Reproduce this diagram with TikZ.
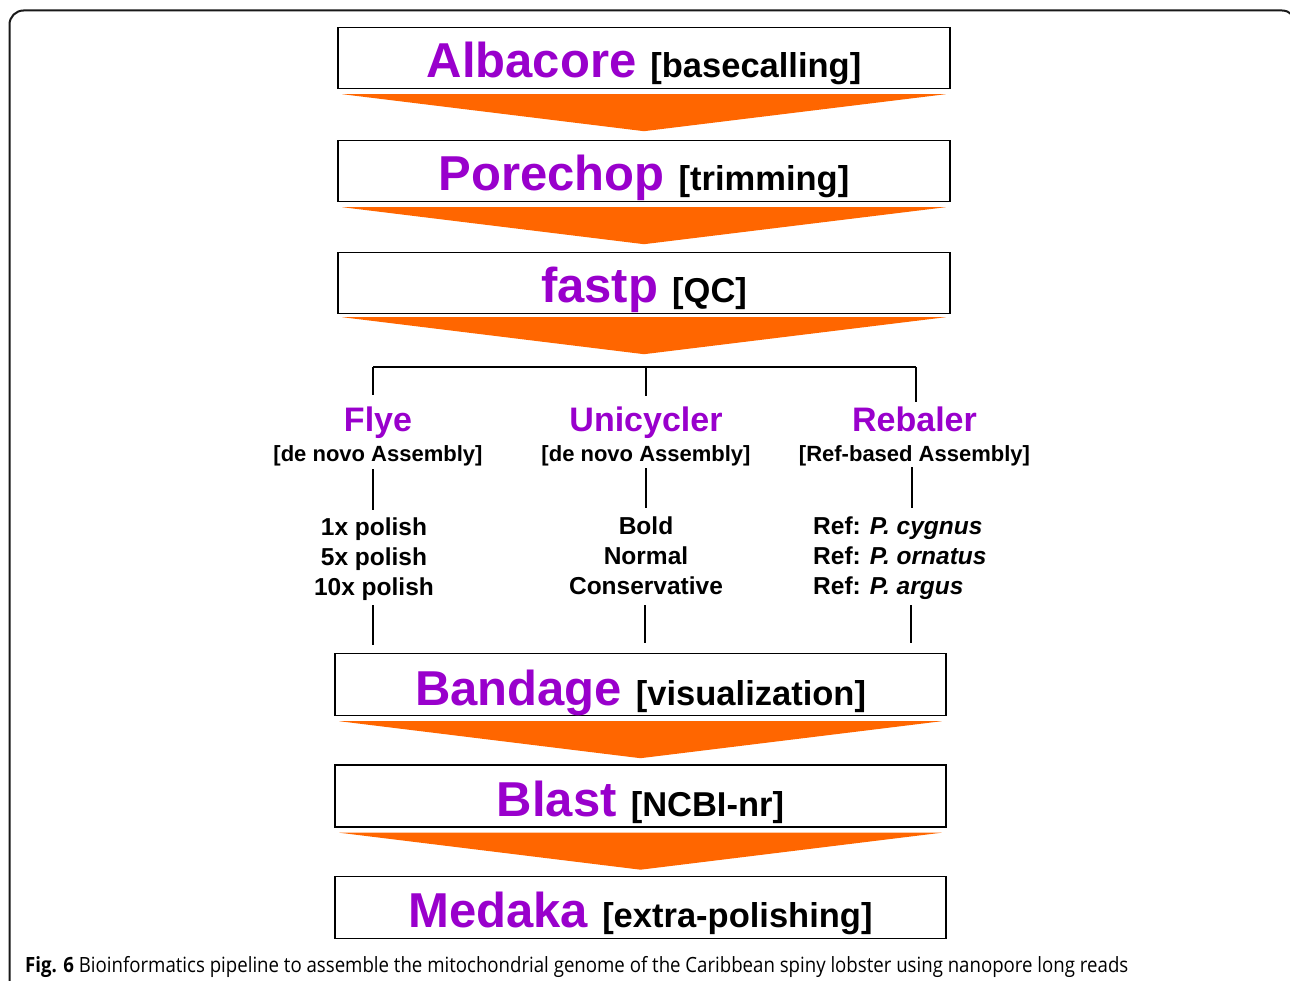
\documentclass[tikz,border=0pt]{standalone}
\usepackage{fontspec}
\usepackage{graphicx}
\setmainfont{Liberation Sans}
\newfontfamily\capfont{Open Sans}
\usetikzlibrary{calc}
\definecolor{tpurple}{HTML}{9900CC}
\definecolor{torange}{HTML}{FF6600}
\newcommand{\stg}[2]{\textcolor{tpurple}{\fontsize{49}{49}\selectfont #1}\hspace{14pt}{\fontsize{34.5}{34.5}\selectfont #2}}
\begin{document}
\begin{tikzpicture}[x=1pt,y=-1pt,
  stagebox/.style={draw=black, line width=1.4pt, minimum width=612pt, minimum height=61pt, inner sep=0pt},
  stagetext/.style={anchor=base, inner sep=0pt, font=\bfseries},
  tool/.style={anchor=base, inner sep=0pt, font=\bfseries\fontsize{34}{34}\selectfont, text=tpurple},
  kind/.style={anchor=base, inner sep=0pt, font=\bfseries\fontsize{22}{22}\selectfont},
  opt/.style={anchor=base, inner sep=0pt, font=\bfseries\fontsize{24.5}{24.5}\selectfont},
  tree/.style={draw=black, line width=2.4pt},
  flow/.style={fill=torange}]
\useasboundingbox (0,0) rectangle (1290,981);
\fill[white] (0,0) rectangle (1290,981);
\begin{scope}
\clip (0,0) rectangle (1290,981);
\draw[line width=2pt, black!90, rounded corners=14pt] (9.5,10.5) rectangle (1296,1000);
\end{scope}

% stage boxes
\node[stagebox] (b1) at (644,58) {};
\node[stagebox] (b2) at (644,171) {};
\node[stagebox] (b3) at (644,283) {};
\node[stagebox, minimum width=611pt, minimum height=62pt] (b4) at (640.5,684.5) {};
\node[stagebox, minimum width=611pt, minimum height=62pt] (b5) at (640.5,796) {};
\node[stagebox, minimum width=611pt, minimum height=62pt] (b6) at (640.5,907.5) {};

\node[stagetext] (t1) at (644,78) {\stg{Albacore}{[basecalling]}};
\node[stagetext] (t2) at (644,191) {\stg{Porechop}{[trimming]}};
\node[stagetext] (t3) at (644,303) {\stg{fastp}{[QC]}};
\node[stagetext] (t4) at (640.5,705) {\stg{Bandage}{[visualization]}};
\node[stagetext] (t5) at (640.5,816) {\stg{Blast}{[NCBI-nr]}};
\node[stagetext] (t6) at (640.5,927.5) {\stg{Medaka}{[extra-polishing]}};

% orange arrows
\foreach \b/\n in {b1/b2,b2/b3,b4/b5,b5/b6}{
  \fill[flow] ($(\b.south west)+(5,5)$) -- ($(\b.south east)+(-5,5)$) -- ($(\b.south)+(0,42)$) -- cycle;
}
\fill[flow] ($(b3.south west)+(5,3)$) -- ($(b3.south east)+(-5,3)$) -- ($(b3.south)+(0,40)$) -- cycle;

% assemblers
\node[tool] (flye) at (378,431) {Flye};
\node[tool] (uni) at (646,431) {Unicycler};
\node[tool] (reb) at (914.5,431) {Rebaler};
\node[kind] (flyek) at (378,461) {[de novo Assembly]};
\node[kind] (unik) at (646,461) {[de novo Assembly]};
\node[kind] (rebk) at (914.5,461) {[Ref-based Assembly]};

\node[opt] (f1) at (374,535) {1x polish};
\node[opt] (f2) at (374,565) {5x polish};
\node[opt] (f3) at (374,595) {10x polish};
\node[opt] (u1) at (646,534) {Bold};
\node[opt] (u2) at (646,564) {Normal};
\node[opt] (u3) at (646,594) {Conservative};
\node[opt, anchor=base west] (r1) at (813,534) {Ref: \textit{P. cygnus}};
\node[opt, anchor=base west] (r2) at (813,564) {Ref: \textit{P. ornatus}};
\node[opt, anchor=base west] (r3) at (813,594) {Ref: \textit{P. argus}};

% tree connectors
\coordinate (barL) at (373,367);
\coordinate (barM) at (646,367);
\coordinate (barR) at (916,367);
\coordinate (fT) at (373,395);
\coordinate (uT) at (646,396);
\coordinate (rT) at (916,402);
\draw[tree] (barL) -- (barR);
\draw[tree] (barL) -- (fT);
\draw[tree] (barM) -- (uT);
\draw[tree] (barR) -- (rT);

\coordinate (fa) at (373,469); \coordinate (fb) at (373,510);
\coordinate (ua) at (646,468); \coordinate (ub) at (646,508);
\coordinate (ra) at (912,467); \coordinate (rb) at (912,508);
\draw[tree] (fa) -- (fb);
\draw[tree] (ua) -- (ub);
\draw[tree] (ra) -- (rb);

\coordinate (fc) at (373,605); \coordinate (fd) at (373,645);
\coordinate (uc) at (645,605); \coordinate (ud) at (645,643);
\coordinate (rc) at (911,605); \coordinate (rd) at (911,643);
\draw[tree] (fc) -- (fd);
\draw[tree] (uc) -- (ud);
\draw[tree] (rc) -- (rd);

% caption
\node[anchor=base west, inner sep=0pt] (cap) at (25,972) {\resizebox{1103pt}{\height}{\capfont\fontsize{21}{21}\selectfont\textbf{Fig. 6} Bioinformatics pipeline to assemble the mitochondrial genome of the Caribbean spiny lobster using nanopore long reads}};
\end{tikzpicture}
\end{document}
